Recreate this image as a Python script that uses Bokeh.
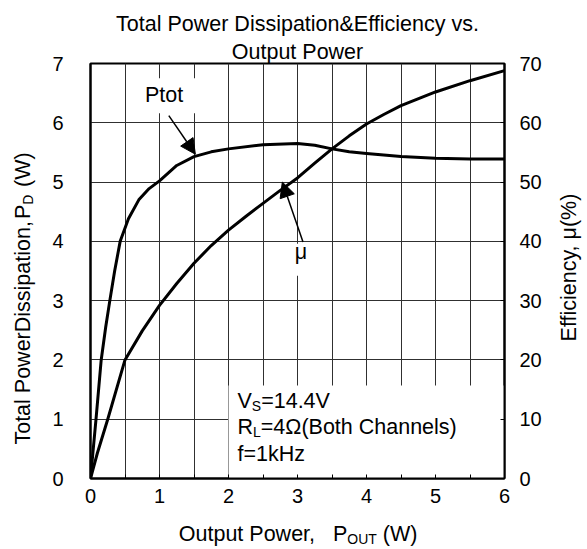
import math
from bokeh.plotting import figure
from bokeh.layouts import column, row
from bokeh.models import Range1d, LinearAxis, FixedTicker, Label, Arrow, NormalHead, Title
from bokeh.embed import file_html
from bokeh.resources import INLINE

# ---------------- data ----------------
pout_ptot = [0, 0.08, 0.155, 0.22, 0.28, 0.35, 0.43, 0.55, 0.7, 0.85, 1.0, 1.25,
             1.5, 1.75, 2.0, 2.5, 3.0, 3.25, 3.5, 3.75, 4.0, 4.5, 5.0, 5.5, 6.0]
ptot_w = [0, 1.0, 2.0, 2.55, 3.0, 3.5, 4.0, 4.38, 4.7, 4.89, 5.02, 5.28,
          5.43, 5.51, 5.56, 5.63, 5.65, 5.62, 5.56, 5.51, 5.48, 5.43, 5.40, 5.39, 5.39]

pout_eff = [0, 0.1, 0.25, 0.5, 0.75, 1.0, 1.25, 1.5, 1.75, 2.0, 2.25, 2.5, 2.75, 3.0,
            3.25, 3.5, 3.75, 4.0, 4.25, 4.5, 5.0, 5.5, 6.0]
eff_pct = [0, 4.3, 10, 20, 24.9, 29.2, 32.9, 36.3, 39.3, 41.9, 44.2, 46.4, 48.6, 50.7,
           53.2, 55.6, 57.8, 59.8, 61.4, 62.9, 65.2, 67.1, 68.8]

x_ticks = [0, 1, 2, 3, 4, 5, 6]
x_minor = [0.5, 1.5, 2.5, 3.5, 4.5, 5.5]
pd_ticks = [0, 1, 2, 3, 4, 5, 6, 7]
eff_ticks = [0, 10, 20, 30, 40, 50, 60, 70]

title_lines = ["Total Power Dissipation&Efficiency vs.", "Output Power"]

FONT = "Liberation Sans"
FS = 21.5
TICK_FS = 20
BASE_SHIFT = 0.38   # measured: rendered baseline sits this many em below the anchor

# ---------------- page geometry (page pixels) ----------------
TOTAL_W = 585
MAIN_X0, MAIN_X1 = 40, 550
MAIN_H = 515
BOTTOM_H = 33
FL, FT, FR, FB = 90, 63, 504, 478   # frame edges on the page

# ---------------- text helpers ----------------
AW = {' ': 278, '%': 889, '&': 667, '(': 333, ')': 333, ',': 278, '.': 278, '=': 584,
      'A': 667, 'B': 667, 'C': 722, 'D': 722, 'E': 667, 'F': 611, 'H': 722, 'L': 556,
      'O': 778, 'P': 667, 'R': 722, 'S': 667, 'T': 611, 'U': 722, 'V': 667, 'W': 944,
      'a': 556, 'b': 556, 'c': 500, 'd': 556, 'e': 556, 'f': 278, 'h': 556, 'i': 222,
      'k': 500, 'l': 222, 'n': 556, 'o': 556, 'p': 556, 'r': 333, 's': 500, 't': 278,
      'u': 556, 'v': 500, 'w': 722, 'y': 500, 'z': 500, '\u03a9': 768, '\u03bc': 576}
for d in "0123456789":
    AW[d] = 556


def tw(s, size):
    return sum(AW.get(c, 556) for c in s) / 1000.0 * size


def rich(fig, parts, x0, y0, size=FS, angle=0.0, align="left", units="data",
         sub_scale=0.65, sub_drop=0.09):
    """parts: list of (text, kind) with kind in {"n", "sub", "gap"}.
    (x0, y0): desired baseline anchor, y axis pointing up.
    Pieces before the first subscript are anchored at their end, the rest at their start,
    so small font-width errors never make neighbouring pieces overlap."""
    def fsize(kind):
        return size * (sub_scale if kind == "sub" else 1.0)
    widths = [tw(t, fsize(k)) for t, k in parts]
    total = sum(widths)
    kinds = [k for _, k in parts]
    pivot = kinds.index("sub") if "sub" in kinds else 0
    start = 0.0 if align == "left" else (-total / 2 if align == "center" else -total)
    dx, dy = math.cos(angle), math.sin(angle)
    ddx, ddy = math.sin(angle), -math.cos(angle)   # "down" direction of the text
    pos = start
    for i, ((t, k), w) in enumerate(zip(parts, widths)):
        if k != "gap":
            fsz = fsize(k)
            off = (size * sub_drop if k == "sub" else 0.0) - BASE_SHIFT * fsz
            if i < pivot:
                a, ta = pos + w, "right"
            else:
                a, ta = pos, "left"
            fig.add_layout(Label(x=x0 + dx * a + ddx * off, y=y0 + dy * a + ddy * off,
                                 x_units=units, y_units=units, text=t, angle=angle,
                                 text_align=ta, text_baseline="alphabetic",
                                 text_font=FONT, text_font_size=f"{fsz:.2f}px",
                                 text_color="black"))
        pos += w


def text_panel(w, h):
    f = figure(width=w, height=h, x_range=Range1d(0, w), y_range=Range1d(0, h),
               output_backend="svg", toolbar_location=None,
               x_axis_location=None, y_axis_location=None,
               min_border=0, min_border_left=0, min_border_right=0,
               min_border_top=0, min_border_bottom=0)
    f.outline_line_color = None
    f.background_fill_color = "white"
    f.border_fill_color = "white"
    f.grid.visible = False
    return f


# ---------------- main chart ----------------
p = figure(width=MAIN_X1 - MAIN_X0, height=MAIN_H, x_range=Range1d(0, 6), y_range=Range1d(0, 7),
           output_backend="svg", toolbar_location=None,
           min_border_left=FL - MAIN_X0, min_border_right=MAIN_X1 - FR,
           min_border_top=FT, min_border_bottom=MAIN_H - FB)
p.background_fill_color = "white"
p.border_fill_color = "white"
p.outline_line_color = "black"
p.outline_line_width = 2

# two-line title: the added Title sits nearest the frame (second line)
p.title.text = title_lines[0]
p.title.align = "center"
p.title.text_font = FONT
p.title.text_font_size = f"{FS}px"
p.title.text_font_style = "normal"
p.title.text_color = "black"
p.title.standoff = 4
p.add_layout(Title(text=title_lines[1], align="center", text_font=FONT,
                   text_font_size=f"{FS}px", text_font_style="normal",
                   text_color="black", standoff=0), "above")

p.extra_y_ranges = {"eff": Range1d(0, 70)}

grid_col = "#303030"
p.xaxis.ticker = FixedTicker(ticks=x_ticks, minor_ticks=x_minor)
p.yaxis.ticker = FixedTicker(ticks=pd_ticks)
p.xgrid.grid_line_color = grid_col
p.xgrid.minor_grid_line_color = grid_col
p.xgrid.grid_line_width = 1
p.xgrid.minor_grid_line_width = 1
p.ygrid.grid_line_color = grid_col
p.ygrid.grid_line_width = 1

rax = LinearAxis(y_range_name="eff", ticker=FixedTicker(ticks=eff_ticks))
p.add_layout(rax, "right")

for ax in [p.xaxis[0], p.yaxis[0], rax]:
    ax.axis_line_color = "black"
    ax.axis_line_width = 2
    ax.major_tick_line_color = "black"
    ax.major_tick_line_width = 1
    ax.minor_tick_line_color = "black"
    ax.major_tick_out = 0
    ax.minor_tick_out = 0
    ax.major_label_text_font = FONT
    ax.major_label_text_font_size = f"{TICK_FS}px"
    ax.major_label_text_color = "black"

p.xaxis.major_tick_in = 4
p.xaxis.minor_tick_in = 4
p.xaxis.major_label_standoff = 10
p.yaxis.major_tick_in = 0
p.yaxis.minor_tick_in = 0
p.yaxis.major_label_standoff = 27
rax.major_tick_in = 4
rax.minor_tick_in = 0
rax.major_label_standoff = 15

# white boxes behind the annotation texts (they hide the grid there)
p.quad(left=[2.0], right=[6.0], bottom=[0.0], top=[1.57], fill_color="white", line_color=None)
p.quad(left=[0.68], right=[1.72], bottom=[6.16], top=[6.75], fill_color="white", line_color=None)
p.quad(left=[2.84], right=[3.32], bottom=[3.42], top=[3.96], fill_color="white", line_color=None)

# curves
p.line(pout_ptot, ptot_w, line_width=3, line_color="black", line_join="round")
p.line(pout_eff, eff_pct, y_range_name="eff", line_width=3, line_color="black", line_join="round")

# arrows
p.add_layout(Arrow(end=NormalHead(size=15, fill_color="black", line_color="black"),
                   x_start=1.135, y_start=6.12, x_end=1.52, y_end=5.47,
                   line_width=1.5, line_color="black"))
p.add_layout(Arrow(end=NormalHead(size=15, fill_color="black", line_color="black"),
                   x_start=3.08, y_start=3.99, x_end=2.78, y_end=5.0,
                   line_width=1.5, line_color="black"))


def in_frame(px, py):
    # page pixel -> screen units relative to the frame's bottom-left
    return px - FL, FB - py


rich(p, [("Ptot", "n")], *in_frame(163.5, 103), align="center", units="screen")
rich(p, [("\u03bc", "n")], *in_frame(300.5, 260), align="center", units="screen")
rich(p, [("V", "n"), ("S", "sub"), ("=14.4V", "n")], *in_frame(237, 409), units="screen")
rich(p, [("R", "n"), ("L", "sub"), ("=4\u03a9(Both Channels)", "n")], *in_frame(237, 435), units="screen")
rich(p, [("f=1kHz", "n")], *in_frame(237, 461.5), units="screen")

# ---------------- side text panels ----------------
ly = MAIN_H - 270
left_fig = text_panel(MAIN_X0, MAIN_H)
rich(left_fig, [("Total PowerDissipation,", "n"), (" ", "gap"), ("P", "n"), ("D", "sub"),
                ("  ", "gap"), ("(W)", "n")], 31, ly, angle=math.pi / 2, align="center")

right_fig = text_panel(TOTAL_W - MAIN_X1, MAIN_H)
rich(right_fig, [("Efficiency, \u03bc(%)", "n")], 577 - MAIN_X1, ly,
     angle=math.pi / 2, align="center")

bottom_fig = text_panel(TOTAL_W, BOTTOM_H)
rich(bottom_fig, [("Output Power,", "n"), ("   ", "gap"), ("P", "n"), ("OUT", "sub"),
                  (" ", "gap"), ("(W)", "n")],
     297, MAIN_H + BOTTOM_H - 542, align="center")

layout = column(row(left_fig, p, right_fig), bottom_fig)

open("out.html", "w").write(file_html(layout, INLINE))
